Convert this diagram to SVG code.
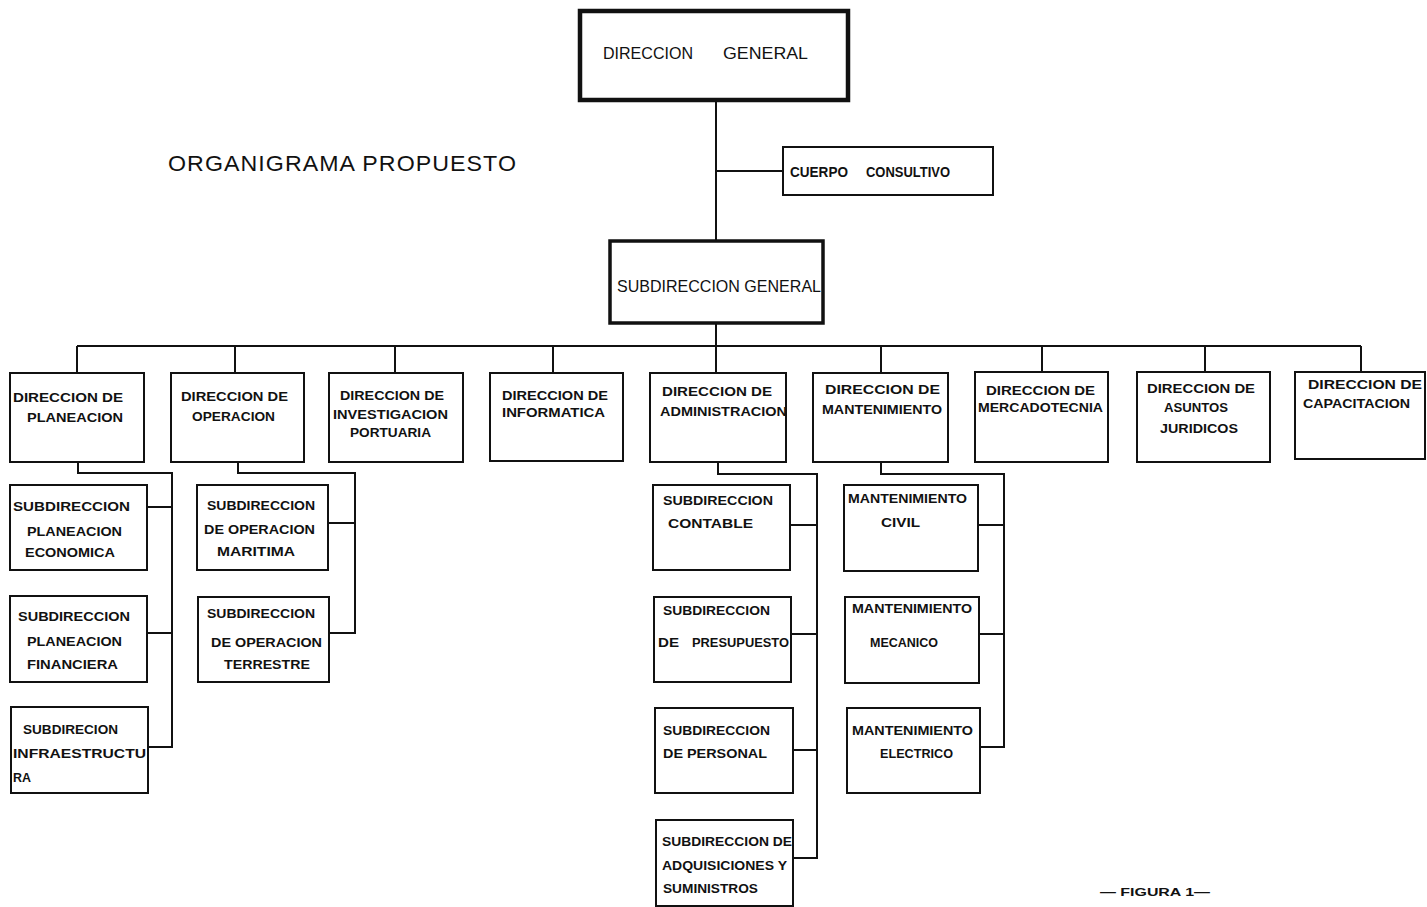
<svg xmlns="http://www.w3.org/2000/svg" width="1427" height="907" viewBox="0 0 1427 907">
  <style>
    .bx { fill: #ffffff; stroke: #111111; stroke-width: 2; }
    .bx-top { fill: #ffffff; stroke: #111111; stroke-width: 4.5; }
    .bx-sub { fill: #ffffff; stroke: #111111; stroke-width: 3.5; }
    .ln { fill: none; stroke: #111111; stroke-width: 2; }
    text { font-family: "Liberation Sans", Arial, sans-serif; fill: #111111; }
    .t { font-size: 13px; font-weight: bold; }
    .tc { font-size: 14px; font-weight: bold; }
    .tb { font-size: 17px; }
    .title { font-size: 22px; letter-spacing: 1px; }
    .fig { font-size: 11px; font-weight: bold; }
  </style>
  <rect width="1427" height="907" fill="#ffffff"/>

  <text class="title" x="168" y="171" textLength="349" lengthAdjust="spacingAndGlyphs">ORGANIGRAMA PROPUESTO</text>

  <!-- connectors -->
  <g id="connectors">
    <path class="ln" d="M716 100 V240"/>
    <path class="ln" d="M716 171 H783"/>
    <path class="ln" d="M716 323 V346"/>
    <path class="ln" d="M77 346 H1361"/>
    <path class="ln" d="M77 346 V373 M235 346 V373 M395 346 V373 M553 346 V373 M716 346 V373 M881 346 V373 M1042 346 V372 M1205 346 V372 M1361 346 V372"/>
    <!-- planeacion branch -->
    <path class="ln" d="M78 462 V473 H172 V747 H148 M147 507 H172 M147 633 H172"/>
    <!-- operacion branch -->
    <path class="ln" d="M238 462 V473 H355 V633 H329 M328 523 H355"/>
    <!-- administracion branch -->
    <path class="ln" d="M718 462 V474 H817 V858 H794 M790 525 H817 M792 634 H817 M794 750 H817"/>
    <!-- mantenimiento branch -->
    <path class="ln" d="M881 462 V474 H1004 V747 H981 M979 525 H1004 M980 634 H1004"/>
  </g>

  <g id="direccion-general">
    <rect class="bx-top" x="580" y="11" width="268" height="89"/>
    <text class="tb" x="603" y="59" textLength="90" lengthAdjust="spacingAndGlyphs">DIRECCION</text>
    <text class="tb" x="723" y="59" textLength="85" lengthAdjust="spacingAndGlyphs">GENERAL</text>
  </g>

  <g id="cuerpo-consultivo">
    <rect class="bx" x="783" y="147" width="210" height="48"/>
    <text class="tc" x="790" y="177" textLength="58" lengthAdjust="spacingAndGlyphs">CUERPO</text>
    <text class="tc" x="866" y="177" textLength="84" lengthAdjust="spacingAndGlyphs">CONSULTIVO</text>
  </g>

  <g id="subdireccion-general">
    <rect class="bx-sub" x="610" y="241" width="213" height="82"/>
    <text class="tb" x="617" y="292" textLength="204" lengthAdjust="spacingAndGlyphs">SUBDIRECCION GENERAL</text>
  </g>

  <!-- direcciones -->
  <g id="dir-planeacion">
    <rect class="bx" x="10" y="373" width="134" height="89"/>
    <text class="t" x="13" y="402" textLength="110" lengthAdjust="spacingAndGlyphs">DIRECCION DE</text>
    <text class="t" x="27" y="422" textLength="96" lengthAdjust="spacingAndGlyphs">PLANEACION</text>
  </g>
  <g id="dir-operacion">
    <rect class="bx" x="171" y="373" width="133" height="89"/>
    <text class="t" x="181" y="401" textLength="107" lengthAdjust="spacingAndGlyphs">DIRECCION DE</text>
    <text class="t" x="192" y="421" textLength="83" lengthAdjust="spacingAndGlyphs">OPERACION</text>
  </g>
  <g id="dir-investigacion">
    <rect class="bx" x="329" y="373" width="134" height="89"/>
    <text class="t" x="340" y="400" textLength="104" lengthAdjust="spacingAndGlyphs">DIRECCION DE</text>
    <text class="t" x="333" y="419" textLength="115" lengthAdjust="spacingAndGlyphs">INVESTIGACION</text>
    <text class="t" x="350" y="437" textLength="81" lengthAdjust="spacingAndGlyphs">PORTUARIA</text>
  </g>
  <g id="dir-informatica">
    <rect class="bx" x="490" y="373" width="133" height="88"/>
    <text class="t" x="502" y="400" textLength="106" lengthAdjust="spacingAndGlyphs">DIRECCION DE</text>
    <text class="t" x="502" y="417" textLength="103" lengthAdjust="spacingAndGlyphs">INFORMATICA</text>
  </g>
  <g id="dir-administracion">
    <rect class="bx" x="650" y="373" width="136" height="89"/>
    <text class="t" x="662" y="396" textLength="110" lengthAdjust="spacingAndGlyphs">DIRECCION DE</text>
    <text class="t" x="660" y="416" textLength="127" lengthAdjust="spacingAndGlyphs">ADMINISTRACION</text>
  </g>
  <g id="dir-mantenimiento">
    <rect class="bx" x="813" y="373" width="135" height="89"/>
    <text class="t" x="825" y="394" textLength="115" lengthAdjust="spacingAndGlyphs">DIRECCION DE</text>
    <text class="t" x="822" y="414" textLength="120" lengthAdjust="spacingAndGlyphs">MANTENIMIENTO</text>
  </g>
  <g id="dir-mercadotecnia">
    <rect class="bx" x="975" y="372" width="133" height="90"/>
    <text class="t" x="986" y="395" textLength="109" lengthAdjust="spacingAndGlyphs">DIRECCION DE</text>
    <text class="t" x="978" y="412" textLength="125" lengthAdjust="spacingAndGlyphs">MERCADOTECNIA</text>
  </g>
  <g id="dir-asuntos-juridicos">
    <rect class="bx" x="1137" y="372" width="133" height="90"/>
    <text class="t" x="1147" y="393" textLength="108" lengthAdjust="spacingAndGlyphs">DIRECCION DE</text>
    <text class="t" x="1164" y="412" textLength="64" lengthAdjust="spacingAndGlyphs">ASUNTOS</text>
    <text class="t" x="1160" y="433" textLength="78" lengthAdjust="spacingAndGlyphs">JURIDICOS</text>
  </g>
  <g id="dir-capacitacion">
    <rect class="bx" x="1295" y="372" width="130" height="87"/>
    <text class="t" x="1308" y="389" textLength="114" lengthAdjust="spacingAndGlyphs">DIRECCION DE</text>
    <text class="t" x="1303" y="408" textLength="107" lengthAdjust="spacingAndGlyphs">CAPACITACION</text>
  </g>

  <!-- subdirecciones de planeacion -->
  <g id="sub-planeacion-economica">
    <rect class="bx" x="10" y="485" width="137" height="85"/>
    <text class="t" x="13" y="511" textLength="117" lengthAdjust="spacingAndGlyphs">SUBDIRECCION</text>
    <text class="t" x="27" y="536" textLength="95" lengthAdjust="spacingAndGlyphs">PLANEACION</text>
    <text class="t" x="25" y="557" textLength="90" lengthAdjust="spacingAndGlyphs">ECONOMICA</text>
  </g>
  <g id="sub-planeacion-financiera">
    <rect class="bx" x="10" y="596" width="137" height="86"/>
    <text class="t" x="18" y="621" textLength="112" lengthAdjust="spacingAndGlyphs">SUBDIRECCION</text>
    <text class="t" x="27" y="646" textLength="95" lengthAdjust="spacingAndGlyphs">PLANEACION</text>
    <text class="t" x="27" y="669" textLength="91" lengthAdjust="spacingAndGlyphs">FINANCIERA</text>
  </g>
  <g id="sub-infraestructura">
    <rect class="bx" x="11" y="707" width="137" height="86"/>
    <text class="t" x="23" y="734" textLength="95" lengthAdjust="spacingAndGlyphs">SUBDIRECION</text>
    <text class="t" x="13" y="758" textLength="133" lengthAdjust="spacingAndGlyphs">INFRAESTRUCTU</text>
    <text class="t" x="13" y="782" textLength="18" lengthAdjust="spacingAndGlyphs">RA</text>
  </g>

  <!-- subdirecciones de operacion -->
  <g id="sub-operacion-maritima">
    <rect class="bx" x="197" y="485" width="131" height="85"/>
    <text class="t" x="207" y="510" textLength="108" lengthAdjust="spacingAndGlyphs">SUBDIRECCION</text>
    <text class="t" x="204" y="534" textLength="111" lengthAdjust="spacingAndGlyphs">DE OPERACION</text>
    <text class="t" x="217" y="556" textLength="78" lengthAdjust="spacingAndGlyphs">MARITIMA</text>
  </g>
  <g id="sub-operacion-terrestre">
    <rect class="bx" x="198" y="597" width="131" height="85"/>
    <text class="t" x="207" y="618" textLength="108" lengthAdjust="spacingAndGlyphs">SUBDIRECCION</text>
    <text class="t" x="211" y="647" textLength="111" lengthAdjust="spacingAndGlyphs">DE OPERACION</text>
    <text class="t" x="224" y="669" textLength="86" lengthAdjust="spacingAndGlyphs">TERRESTRE</text>
  </g>

  <!-- subdirecciones de administracion -->
  <g id="sub-contable">
    <rect class="bx" x="653" y="485" width="137" height="85"/>
    <text class="t" x="663" y="505" textLength="110" lengthAdjust="spacingAndGlyphs">SUBDIRECCION</text>
    <text class="t" x="668" y="528" textLength="85" lengthAdjust="spacingAndGlyphs">CONTABLE</text>
  </g>
  <g id="sub-presupuesto">
    <rect class="bx" x="654" y="597" width="137" height="85"/>
    <text class="t" x="663" y="615" textLength="107" lengthAdjust="spacingAndGlyphs">SUBDIRECCION</text>
    <text class="t" x="658" y="647" textLength="21" lengthAdjust="spacingAndGlyphs">DE</text>
    <text class="t" x="692" y="647" textLength="97" lengthAdjust="spacingAndGlyphs">PRESUPUESTO</text>
  </g>
  <g id="sub-personal">
    <rect class="bx" x="655" y="708" width="138" height="85"/>
    <text class="t" x="663" y="735" textLength="107" lengthAdjust="spacingAndGlyphs">SUBDIRECCION</text>
    <text class="t" x="663" y="758" textLength="104" lengthAdjust="spacingAndGlyphs">DE PERSONAL</text>
  </g>
  <g id="sub-adquisiciones">
    <rect class="bx" x="656" y="820" width="137" height="86"/>
    <text class="t" x="662" y="846" textLength="130" lengthAdjust="spacingAndGlyphs">SUBDIRECCION DE</text>
    <text class="t" x="662" y="870" textLength="125" lengthAdjust="spacingAndGlyphs">ADQUISICIONES Y</text>
    <text class="t" x="663" y="893" textLength="95" lengthAdjust="spacingAndGlyphs">SUMINISTROS</text>
  </g>

  <!-- areas de mantenimiento -->
  <g id="mant-civil">
    <rect class="bx" x="844" y="485" width="134" height="86"/>
    <text class="t" x="848" y="503" textLength="119" lengthAdjust="spacingAndGlyphs">MANTENIMIENTO</text>
    <text class="t" x="881" y="527" textLength="39" lengthAdjust="spacingAndGlyphs">CIVIL</text>
  </g>
  <g id="mant-mecanico">
    <rect class="bx" x="845" y="597" width="134" height="86"/>
    <text class="t" x="852" y="613" textLength="120" lengthAdjust="spacingAndGlyphs">MANTENIMIENTO</text>
    <text class="t" x="870" y="647" textLength="68" lengthAdjust="spacingAndGlyphs">MECANICO</text>
  </g>
  <g id="mant-electrico">
    <rect class="bx" x="847" y="708" width="133" height="85"/>
    <text class="t" x="852" y="735" textLength="121" lengthAdjust="spacingAndGlyphs">MANTENIMIENTO</text>
    <text class="t" x="880" y="758" textLength="73" lengthAdjust="spacingAndGlyphs">ELECTRICO</text>
  </g>

  <text class="fig" x="1100" y="896" textLength="110" lengthAdjust="spacingAndGlyphs">— FIGURA 1—</text>
</svg>
